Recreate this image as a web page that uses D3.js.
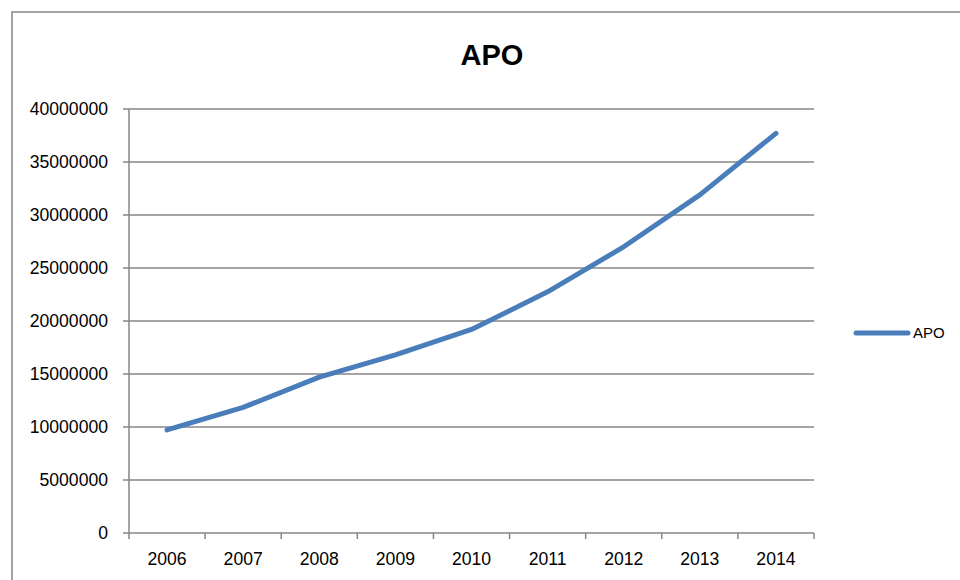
<!DOCTYPE html>
<html>
<head>
<meta charset="utf-8">
<script src="https://cdn.jsdelivr.net/npm/d3@7"></script>
<style>
  body { margin: 0; background: #fff; }
  svg { display: block; }
  text { font-family: "Liberation Sans", Arial, sans-serif; fill: #000; }
</style>
</head>
<body>
<svg width="960" height="580"></svg>
<script>
// данные графика
const years = ["2006", "2007", "2008", "2009", "2010", "2011", "2012", "2013", "2014"];
const apoValues = [9720000, 11850000, 14700000, 16800000, 19200000, 22750000, 27000000, 31900000, 37700000];
const yTicks = [0, 5000000, 10000000, 15000000, 20000000, 25000000, 30000000, 35000000, 40000000];
const seriesName = "APO";

const svg = d3.select("svg");
const plot = {left: 129, right: 814, top: 109, bottom: 533};
const gridColor = "#868686";
const lineColor = "#4a7ebb";

// рамка области диаграммы
svg.append("rect")
    .attr("x", 12).attr("y", 12)
    .attr("width", 1000).attr("height", 1000)
    .attr("fill", "none")
    .attr("stroke", gridColor)
    .attr("stroke-width", 1.5);

const x = d3.scaleBand()
    .domain(years)
    .range([plot.left, plot.right]);

const y = d3.scaleLinear()
    .domain([0, 40000000])
    .range([plot.bottom, plot.top]);

// горизонтальные линии сетки
svg.append("g")
    .selectAll("line")
    .data(yTicks)
    .join("line")
    .attr("x1", plot.left - 6)
    .attr("x2", plot.right)
    .attr("y1", d => y(d))
    .attr("y2", d => y(d))
    .attr("stroke", gridColor)
    .attr("stroke-width", 1.5);

// подписи оси Y
svg.append("g")
    .selectAll("text")
    .data(yTicks)
    .join("text")
    .attr("x", 108)
    .attr("y", d => y(d))
    .attr("dy", "0.36em")
    .attr("text-anchor", "end")
    .attr("font-size", 17.6)
    .text(d => d);

// ось Y
svg.append("line")
    .attr("x1", plot.left).attr("x2", plot.left)
    .attr("y1", plot.top).attr("y2", plot.bottom)
    .attr("stroke", gridColor)
    .attr("stroke-width", 1.5);

// засечки оси X
const tickPos = years.map(d => x(d)).concat([plot.right]);
svg.append("g")
    .selectAll("line")
    .data(tickPos)
    .join("line")
    .attr("x1", d => d).attr("x2", d => d)
    .attr("y1", plot.bottom).attr("y2", plot.bottom + 6)
    .attr("stroke", gridColor)
    .attr("stroke-width", 1.5);

// подписи оси X
svg.append("g")
    .selectAll("text")
    .data(years)
    .join("text")
    .attr("x", d => x(d) + x.bandwidth() / 2)
    .attr("y", 565)
    .attr("text-anchor", "middle")
    .attr("font-size", 17.6)
    .text(d => d);

// линия ряда
const line = d3.line()
    .x((d, i) => x(years[i]) + x.bandwidth() / 2)
    .y(d => y(d));

svg.append("path")
    .attr("d", line(apoValues))
    .attr("fill", "none")
    .attr("stroke", lineColor)
    .attr("stroke-width", 5)
    .attr("stroke-linecap", "round")
    .attr("stroke-linejoin", "round");

// заголовок
svg.append("text")
    .attr("x", 492)
    .attr("y", 65)
    .attr("text-anchor", "middle")
    .attr("font-size", 29)
    .attr("font-weight", "bold")
    .text(seriesName);

// легенда
svg.append("line")
    .attr("x1", 856).attr("x2", 908)
    .attr("y1", 333).attr("y2", 333)
    .attr("stroke", lineColor)
    .attr("stroke-width", 5)
    .attr("stroke-linecap", "round");

svg.append("text")
    .attr("x", 913)
    .attr("y", 333)
    .attr("dy", "0.36em")
    .attr("font-size", 15)
    .text(seriesName);
</script>
</body>
</html>
